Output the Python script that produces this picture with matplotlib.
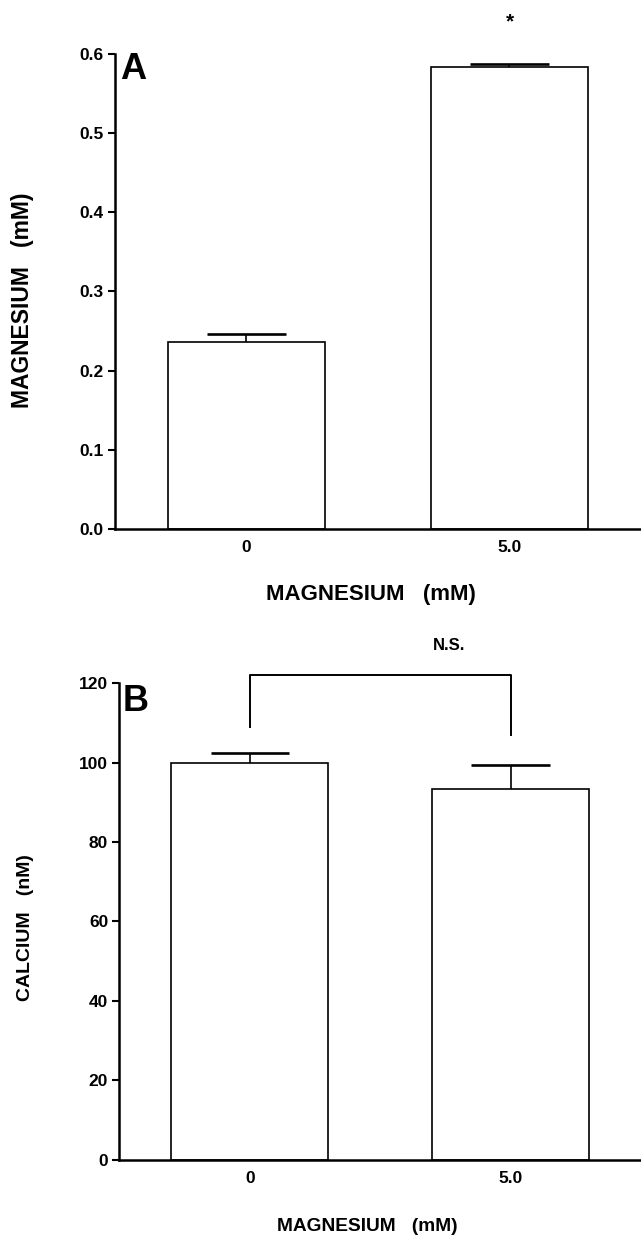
import matplotlib
matplotlib.use('Agg')
import matplotlib.pyplot as plt

plt.rcParams['font.family'] = ['Liberation Sans', 'DejaVu Sans']
plt.rcParams['font.weight'] = 'bold'

# panel A: magnesium
groups = ['0', '5.0']
mg_mean = [0.236, 0.583]
mg_err = [0.010, 0.004]
mg_ticks = [0.0, 0.1, 0.2, 0.3, 0.4, 0.5, 0.6]

# panel B: calcium
ca_mean = [100.0, 93.4]
ca_err = [2.4, 5.9]
ca_ticks = [0, 20, 40, 60, 80, 100, 120]
# N.S. bracket (left leg bottom, top, right leg bottom)
bracket_y = [109.0, 122.0, 107.0]

xlabel = 'MAGNESIUM   (mM)'

fig = plt.figure(figsize=(6.41, 12.38), dpi=100)
axA = fig.add_axes([0.1794, 0.5727, 0.8206, 0.3837])
axB = fig.add_axes([0.1861, 0.0634, 0.8139, 0.3847])

def style(ax, ticks, fmt):
    for s in ['top', 'right']:
        ax.spines[s].set_visible(False)
    for s in ['left', 'bottom']:
        ax.spines[s].set_linewidth(1.8)
    ax.set_xlim(-0.5, 1.5)
    ax.set_ylim(ticks[0], ticks[-1])
    ax.set_yticks(ticks)
    ax.set_yticklabels([fmt(t) for t in ticks], fontsize=12.5, fontweight='bold')
    ax.set_xticks(range(len(groups)))
    ax.set_xticklabels(groups, fontsize=12.5, fontweight='bold')
    ax.tick_params(axis='y', length=5, width=1.5, pad=3)
    ax.tick_params(axis='x', length=0, pad=8)

def bars(ax, mean, err):
    x = list(range(len(mean)))
    ax.bar(x, mean, width=0.6, color='white', edgecolor='black', linewidth=1.2, zorder=2)
    tops = [m + e for m, e in zip(mean, err)]
    ax.vlines(x, mean, tops, color='black', linewidth=1.2, zorder=3)
    ax.hlines(tops, [i - 0.15 for i in x], [i + 0.15 for i in x], color='black', linewidth=1.9, zorder=3)

# A
bars(axA, mg_mean, mg_err)
style(axA, mg_ticks, lambda t: '%.1f' % t)
axA.text(0.0348, 0.9467, 'A', transform=axA.transAxes, ha='center', va='baseline',
         fontsize=26, fontweight='bold')
axA.text(1, mg_mean[1] + 0.058, '*', ha='center', va='center', fontsize=15,
         fontweight='bold', clip_on=False)
axA.text(0.486, -0.137, xlabel, transform=axA.transAxes, ha='center', va='center',
         fontsize=16, fontweight='bold')
axA.text(-0.176, 0.482, xlabel, transform=axA.transAxes, ha='center', va='center',
         rotation=90, fontsize=16.5, fontweight='bold')

# B
bars(axB, ca_mean, ca_err)
style(axB, ca_ticks, lambda t: '%d' % t)
axB.plot([0, 0, 1, 1], [bracket_y[0], bracket_y[1], bracket_y[1], bracket_y[2]],
         color='black', linewidth=1.4, clip_on=False)
axB.text(0.766, 129.6, 'N.S.', ha='center', va='center', fontsize=12, fontweight='bold')
axB.text(0.031, 0.9416, 'B', transform=axB.transAxes, ha='center', va='baseline',
         fontsize=26, fontweight='bold')
axB.text(0.475, -0.1417, xlabel, transform=axB.transAxes, ha='center', va='center',
         fontsize=13.8, fontweight='bold')
axB.text(-0.179, 0.486, 'CALCIUM   (nM)', transform=axB.transAxes, ha='center', va='center',
         rotation=90, fontsize=14, fontweight='bold')

plt.savefig('out.png', dpi=100)
